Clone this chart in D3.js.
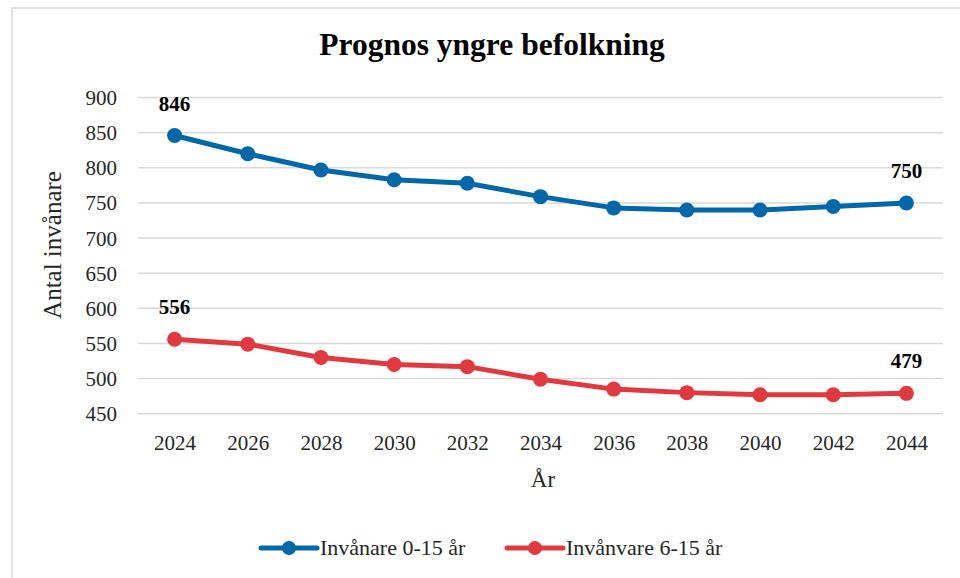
<!DOCTYPE html>
<html><head><meta charset="utf-8">
<script src="https://cdn.jsdelivr.net/npm/d3@7"></script>
<style>
html,body{margin:0;padding:0;background:#fff;}
svg{display:block;}
text{font-family:"Liberation Serif","DejaVu Serif",serif;}
</style></head>
<body>
<svg id="c" width="960" height="578"></svg>
<script>
const years = ["2024","2026","2028","2030","2032","2034","2036","2038","2040","2042","2044"];
const inv0_15 = [846,820,797,783,778,759,743,740,740,745,750];
const inv6_15 = [556,549,530,520,517,499,485,480,477,477,479];
const yTicks = [450,500,550,600,650,700,750,800,850,900];
const seriesNames = ["Invånare 0-15 år","Invånvare 6-15 år"];
const seriesColors = ["#0068A9","#E0393F"];
const title = "Prognos yngre befolkning";
const xTitle = "År";
const yTitle = "Antal invånare";

const svg = d3.select("#c");
// outer chart border (clipped by viewport on right and bottom)
svg.append("rect").attr("x",12).attr("y",8).attr("width",1000).attr("height",640)
  .attr("fill","#fff").attr("stroke","#D9D9D9").attr("stroke-width",1.5);

const x = d3.scalePoint().domain(years).range([138,943]).padding(0.5);
const y = d3.scaleLinear().domain([450,900]).range([413.7,97.6]);

// gridlines
svg.append("g").selectAll("line").data(yTicks).join("line")
  .attr("x1",138).attr("x2",943)
  .attr("y1",d=>y(d)).attr("y2",d=>y(d))
  .attr("stroke","#D9D9D9").attr("stroke-width",1.5);

// y axis labels
const ya = svg.append("g").attr("transform","translate(117,0)")
  .call(d3.axisLeft(y).tickValues(yTicks).tickSize(0).tickPadding(0).tickFormat(d3.format("d")));
ya.select(".domain").remove();
ya.selectAll("text").attr("font-size",21).attr("fill","#262626").attr("dy","0.33em");

// x axis labels
const xa = svg.append("g").attr("transform","translate(0,450)")
  .call(d3.axisBottom(x).tickSize(0).tickPadding(0));
xa.select(".domain").remove();
xa.selectAll("text").attr("font-size",21).attr("fill","#262626").attr("dy","0");

// title
svg.append("text").attr("x",492).attr("y",55).attr("text-anchor","middle")
  .attr("font-size",31.5).attr("font-weight","bold").attr("fill","#000").text(title);

// axis titles
svg.append("text").attr("x",543).attr("y",487).attr("text-anchor","middle")
  .attr("font-size",23).attr("fill","#262626").text(xTitle);
svg.append("text").attr("transform","translate(61,245) rotate(-90)")
  .attr("text-anchor","middle").attr("font-size",25).attr("fill","#262626").text(yTitle);

// series
const series = [inv0_15, inv6_15];
const line = d3.line().x((d,i)=>x(years[i])).y(d=>y(d));
series.forEach((vals,si)=>{
  const g = svg.append("g");
  g.append("path").datum(vals).attr("d",line).attr("fill","none")
    .attr("stroke",seriesColors[si]).attr("stroke-width",5).attr("stroke-linejoin","round");
  g.selectAll("circle").data(vals).join("circle")
    .attr("cx",(d,i)=>x(years[i])).attr("cy",d=>y(d)).attr("r",7.5)
    .attr("fill",seriesColors[si]);
  // first and last data labels
  [0, vals.length-1].forEach(i=>{
    g.append("text").attr("x",x(years[i])).attr("y",y(vals[i])-25)
      .attr("text-anchor","middle").attr("font-size",21).attr("font-weight","bold")
      .attr("fill","#000").text(vals[i]);
  });
});

// legend
const legX = [261, 507];
series.forEach((vals,si)=>{
  const g = svg.append("g").attr("transform",`translate(${legX[si]},548)`);
  g.append("line").attr("x1",0).attr("x2",56).attr("y1",0).attr("y2",0)
    .attr("stroke",seriesColors[si]).attr("stroke-width",5).attr("stroke-linecap","round");
  g.append("circle").attr("cx",28).attr("cy",0).attr("r",7).attr("fill",seriesColors[si]);
  g.append("text").attr("x",59).attr("y",6.5).attr("font-size",22).attr("fill","#262626")
    .text(seriesNames[si]);
});
</script>
</body></html>
